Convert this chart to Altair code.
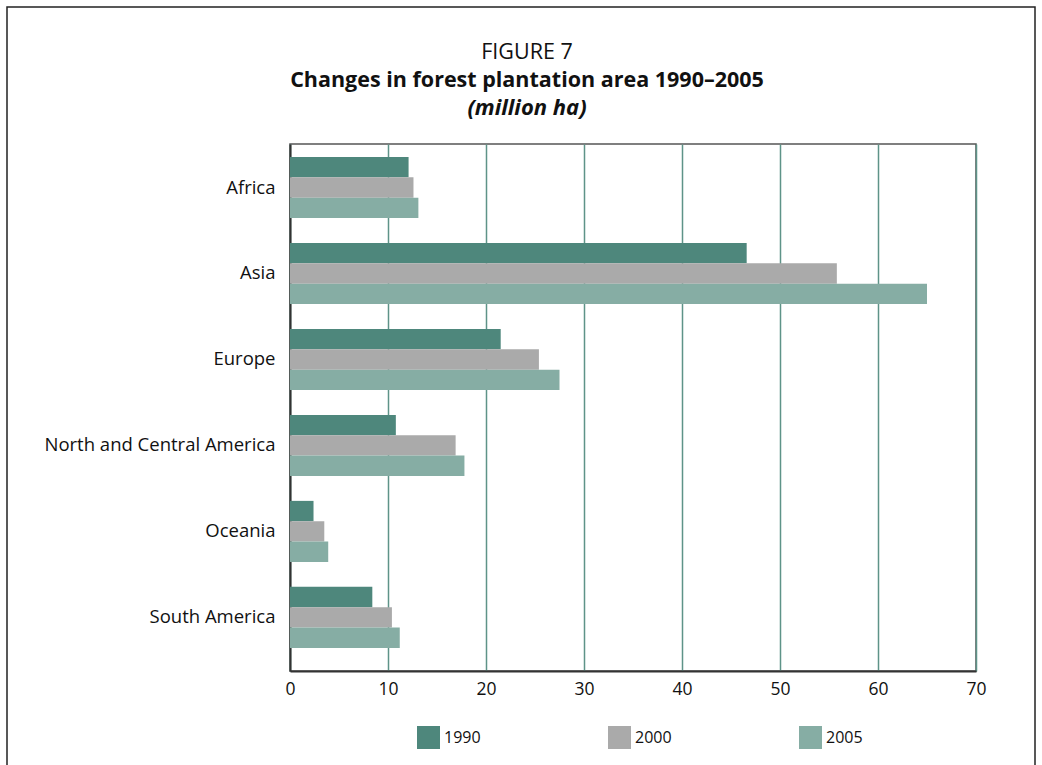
import altair as alt
import pandas as pd

regions = ["Africa", "Asia", "Europe", "North and Central America", "Oceania", "South America"]
years = ["1990", "2000", "2005"]
v1990 = [12.1, 46.6, 21.5, 10.8, 2.4, 8.4]
v2000 = [12.6, 55.8, 25.4, 16.9, 3.5, 10.4]
v2005 = [13.1, 65.0, 27.5, 17.8, 3.9, 11.2]
colors = ["#4E877C", "#AAAAAA", "#86ADA4"]
x_ticks = [0, 10, 20, 30, 40, 50, 60, 70]

title_lines = ["FIGURE 7", "Changes in forest plantation area 1990\u20132005", "(million ha)"]

FONT = "Open Sans"

rows = []
for series, vals in zip(years, [v1990, v2000, v2005]):
    for r, v in zip(regions, vals):
        rows.append({"region": r, "year": series, "value": v})
df = pd.DataFrame(rows)

bars = alt.Chart(df).mark_bar().encode(
    x=alt.X("value:Q",
            scale=alt.Scale(domain=[0, 70], nice=False),
            axis=alt.Axis(values=x_ticks, title=None, grid=True, ticks=False,
                          gridColor="#5E9388", gridWidth=1.5,
                          domainColor="#333333", domainWidth=2,
                          labelFontSize=17.5, labelPadding=9, labelColor="#111111",
                          labelFlush=False, labelFont=FONT)),
    y=alt.Y("region:N", sort=regions,
            scale=alt.Scale(paddingInner=0.29, paddingOuter=0.21, align=0.36),
            axis=alt.Axis(title=None, ticks=False, domainColor="#333333", domainWidth=2,
                          labelFontSize=18.5, labelPadding=15, labelColor="#111111",
                          labelLimit=400, labelFont=FONT)),
    yOffset=alt.YOffset("year:N", sort=years, scale=alt.Scale(paddingInner=0, paddingOuter=0)),
    color=alt.Color("year:N", sort=years,
                    scale=alt.Scale(domain=years, range=colors),
                    legend=alt.Legend(title=None, orient="none", legendX=127, legendY=582,
                                      direction="horizontal", columns=3,
                                      symbolType="square", symbolSize=529,
                                      symbolStrokeWidth=0, symbolOpacity=1,
                                      labelFontSize=16, labelOffset=4, labelFont=FONT,
                                      labelColor="#111111",
                                      columnPadding=127, padding=0)),
)

t1 = alt.Chart(pd.DataFrame({"t": [title_lines[0]]})).mark_text(
    fontSize=21.5, font=FONT, align="center", baseline="alphabetic", color="#111111"
).encode(text="t:N", x=alt.value(237), y=alt.value(-85))

t2 = alt.Chart(pd.DataFrame({"t": [title_lines[1]]})).mark_text(
    fontSize=21.5, font=FONT, fontWeight="bold", align="center", baseline="alphabetic", color="#111111"
).encode(text="t:N", x=alt.value(237), y=alt.value(-57))

t3 = alt.Chart(pd.DataFrame({"t": [title_lines[2]]})).mark_text(
    fontSize=22, font=FONT, fontWeight="bold", fontStyle="italic", align="center",
    baseline="alphabetic", color="#111111"
).encode(text="t:N", x=alt.value(237), y=alt.value(-29))

frame = alt.Chart(pd.DataFrame({"a": [0]})).mark_rect(
    fillOpacity=0, stroke="#222222", strokeWidth=1.5
).encode(x=alt.value(-283), x2=alt.value(745), y=alt.value(-137), y2=alt.value(700))

chart = alt.layer(bars, t1, t2, t3, frame).properties(
    width=686, height=527,
    autosize=alt.AutoSizeParams(type="none"),
    padding={"left": 290, "top": 144, "right": 66, "bottom": 94},
    background="white",
).configure_view(stroke="#555555", strokeWidth=1.5)

chart.save("out.html", embed_options={"renderer": "svg", "actions": False})
